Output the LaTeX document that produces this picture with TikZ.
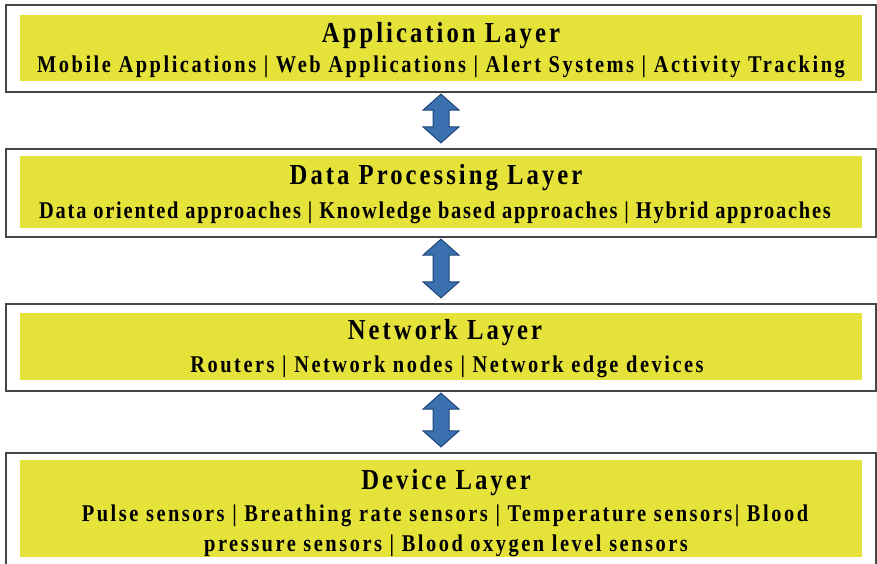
\documentclass[tikz,border=0pt]{standalone}
\usepackage{fontspec}
\setmainfont{Liberation Serif}
\newfontfamily\layerfont[FakeStretch=0.85, LetterSpace=10.5]{Liberation Serif}
\newfontfamily\tightfont[FakeStretch=0.85, LetterSpace=7.5]{Liberation Serif}
\usetikzlibrary{calc}
\definecolor{layeryellow}{RGB}{229,226,58}
\definecolor{framegray}{RGB}{70,70,70}
\definecolor{arrowblue}{RGB}{58,112,176}
\definecolor{arrowline}{RGB}{30,70,120}
\tikzset{
  x=1pt, y=-1pt,
  frame/.style={draw=framegray, line width=1.3pt, fill=white, minimum width=870pt, inner sep=0pt},
  band/.style={fill=layeryellow, minimum width=842pt, inner sep=0pt},
  title/.style={anchor=base, inner sep=0pt, font=\layerfont\bfseries\fontsize{29}{30}\selectfont},
  items/.style={anchor=base, inner sep=0pt, font=\layerfont\bfseries\fontsize{24}{30}\selectfont},
  tightitems/.style={items, font=\tightfont\bfseries\fontsize{24}{30}\selectfont},
  linkstyle/.style={fill=arrowblue, draw=arrowline, line width=1pt, line join=miter},
}
% two-headed vertical block arrow between two stacked nodes
\newcommand\linkarrow[3]{%
  \coordinate (#1t) at ($(#2.south)+(0,1.5)$);
  \coordinate (#1b) at ($(#3.north)+(0,-5.5)$);
  \draw[linkstyle] (#1t) -- ($(#1t)+(18,16)$) -- ($(#1t)+(8,16)$)
    -- ($(#1b)+(8,-16)$) -- ($(#1b)+(18,-16)$) -- (#1b)
    -- ($(#1b)+(-18,-16)$) -- ($(#1b)+(-8,-16)$)
    -- ($(#1t)+(-8,16)$) -- ($(#1t)+(-18,16)$) -- cycle;
}
\begin{document}
\begin{tikzpicture}
\useasboundingbox (0,0) rectangle (877,564);
\fill[white] (0,0) rectangle (877,564);

% outer frames
\node[frame, minimum height=87pt] (f1) at (441,48.5) {};
\node[frame, minimum height=88pt] (f2) at (441,193) {};
\node[frame, minimum height=87pt] (f3) at (441,347.5) {};
\node[frame, minimum height=130pt] (f4) at (441,518) {};

% yellow layer bands with their texts
\node[band, minimum height=66pt] (l1) at (441,48) {};
\node (t1) at (441,43) [title] {Application Layer};
\node (s1) at (441,73) [items] {Mobile Applications | Web Applications | Alert Systems | Activity Tracking};

\node[band, minimum height=72pt] (l2) at (441,192) {};
\node (t2) at (436,184.5) [title] {Data Processing Layer};
\node (s2) at (435,218) [tightitems] {Data oriented approaches | Knowledge based approaches | Hybrid approaches};

\node[band, minimum height=67pt] (l3) at (441,346.5) {};
\node (t3) at (445,339.5) [title] {Network Layer};
\node (s3) at (447,372) [items] {Routers | Network nodes | Network edge devices};

\node[band, minimum height=97pt] (l4) at (441,508.5) {};
\node (t4) at (446,489.5) [title] {Device Layer};
\node (s4a) at (445,521) [items] {Pulse sensors | Breathing rate sensors | Temperature sensors| Blood};
\node (s4b) at (446,551) [items] {pressure sensors | Blood oxygen level sensors};

% two-way links between layers
\linkarrow{a1}{f1}{f2}
\linkarrow{a2}{f2}{f3}
\linkarrow{a3}{f3}{f4}
\end{tikzpicture}
\end{document}
